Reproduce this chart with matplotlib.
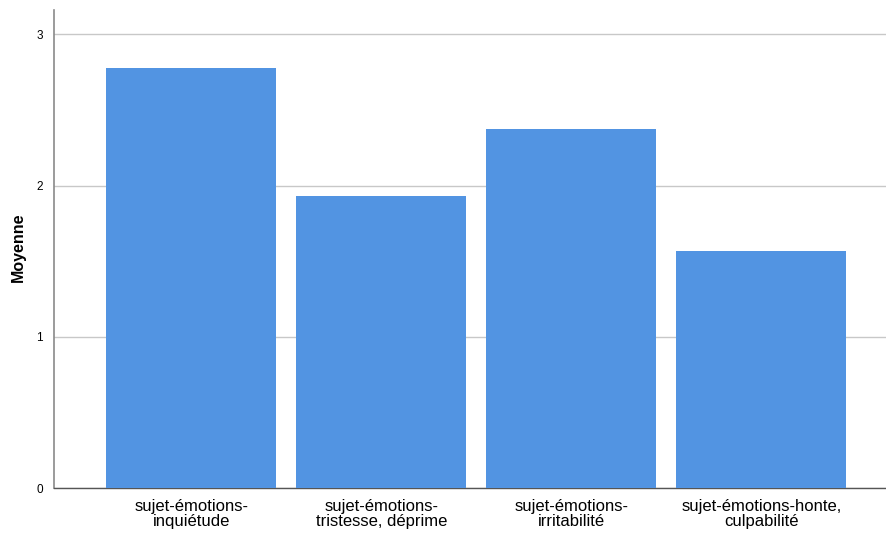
import numpy as np
import matplotlib
matplotlib.use("Agg")
import matplotlib.pyplot as plt

categories = ["sujet-émotions-\ninquiétude", "sujet-émotions-\ntristesse, déprime",
              "sujet-émotions-\nirritabilité", "sujet-émotions-honte,\nculpabilité"]
means = [2.78, 1.93, 2.373, 1.568]
yticks = [0, 1, 2, 3]

plt.rcParams['font.family'] = ['Liberation Sans', 'DejaVu Sans']

fig = plt.figure(figsize=(8.86, 5.34), dpi=100)
ax = fig.add_axes([54/886, 1 - 488.3/534, 1 - 54/886, (488.3 - 10)/534])

x = np.arange(len(categories))
ax.bar(x, means, width=0.895, color='#5294E2', zorder=3)

ax.set_xlim(-0.7226, 3.656)
ax.set_ylim(0, 3.16)
ax.set_yticks(yticks)
ax.set_yticklabels([str(t) for t in yticks], fontsize=8.5)
ax.set_xticks(x)
ax.set_xticklabels(categories, fontsize=12, linespacing=1.0)
ax.tick_params(axis='both', length=0)
ax.tick_params(axis='y', pad=8)
ax.tick_params(axis='x', pad=8)

ax.yaxis.grid(True, color='#c8c8c8', linewidth=1.0, zorder=0)
ax.set_axisbelow(True)

for s in ['top', 'right']:
    ax.spines[s].set_visible(False)
ax.spines['left'].set_color('#8a8a8a')
ax.spines['bottom'].set_color('#555555')
ax.spines['left'].set_linewidth(1.2)
ax.spines['bottom'].set_linewidth(1.0)

ax.set_ylabel('Moyenne', fontsize=11.5, fontweight='bold')
ax.yaxis.set_label_coords(-0.034, 0.505)

fig.savefig('out.png', dpi=100)
